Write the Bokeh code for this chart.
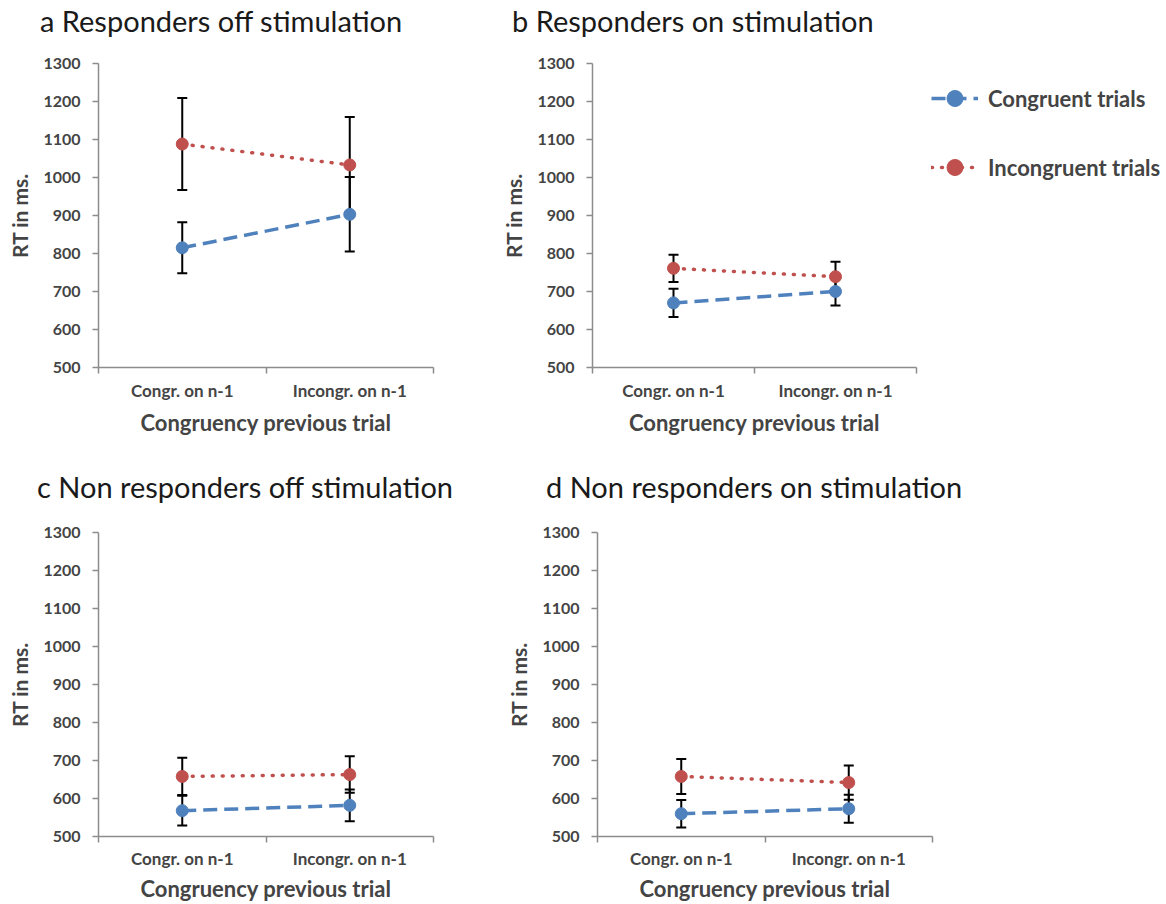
from bokeh.plotting import figure
from bokeh.models import (ColumnDataSource, Range1d, LinearAxis, FixedTicker, Whisker,
                          TeeHead, Legend, LegendItem, Div)
from bokeh.layouts import column, row
from bokeh.embed import file_html
from bokeh.resources import INLINE

# ---- data -------------------------------------------------------------
categories = ["Congr. on n-1", "Incongr. on n-1"]
y_ticks = [500, 600, 700, 800, 900, 1000, 1100, 1200, 1300]

panel_titles = [
    "a Responders off stimulation",
    "b Responders on stimulation",
    "c Non responders off stimulation",
    "d Non responders on stimulation",
]

# mean RT (ms) and error-bar half widths per panel
a_congruent = [815, 903]
a_congruent_err = [67, 98]
a_incongruent = [1088, 1033]
a_incongruent_err = [121, 126]

b_congruent = [670, 700]
b_congruent_err = [37, 37]
b_incongruent = [761, 739]
b_incongruent_err = [36, 39]

c_congruent = [568, 582]
c_congruent_err = [39, 42]
c_incongruent = [658, 663]
c_incongruent_err = [49, 48]

d_congruent = [560, 573]
d_congruent_err = [36, 37]
d_incongruent = [658, 642]
d_incongruent_err = [46, 45]

series_names = ["Congruent trials", "Incongruent trials"]

# ---- style ------------------------------------------------------------
FONT = "Lato"
BLUE = "#4F81BD"
RED = "#C0504D"
GRAY = "#8C8C8C"
FRAME_H = 304

# each category occupies one unit on the x scale; points sit at the centre
cat_pos = [i + 0.5 for i in range(len(categories))]
cat_edges = list(range(len(categories) + 1))


def heading(text, width, height, indent):
    """Panel heading drawn as a fixed-size text strip above a plot."""
    html = (
        f'<div style="font-family:{FONT};font-size:29px;line-height:{height}px;'
        f'padding-left:{indent}px;color:#1a1a1a;white-space:nowrap;margin:0;">'
        f'{text}</div>'
    )
    return Div(text=html, width=width, height=height, margin=0)


def make_panel(cong, cong_err, incong, incong_err,
               left, right, top, bottom,
               tick_standoff=6, xlabel_standoff=5,
               frame_width=335, with_legend=False):
    p = figure(
        x_range=Range1d(0, len(categories)),
        y_range=Range1d(500, 1300),
        frame_width=frame_width,
        frame_height=FRAME_H,
        min_border_left=left, min_border_right=right,
        min_border_top=top, min_border_bottom=bottom,
        x_axis_location=None, y_axis_location=None,
        output_backend="svg", toolbar_location=None,
    )
    p.title = None
    p.outline_line_color = None
    p.xgrid.visible = False
    p.ygrid.visible = False
    p.background_fill_color = "white"
    p.border_fill_color = "white"

    # value axis
    yax = LinearAxis(
        ticker=FixedTicker(ticks=y_ticks, minor_ticks=[]),
        axis_label="RT in ms.",
        axis_label_text_font=FONT, axis_label_text_font_size="21px",
        axis_label_text_font_style="bold", axis_label_standoff=8,
        major_label_text_font=FONT, major_label_text_font_size="16px",
        major_label_text_font_style="bold", major_label_standoff=12,
        major_tick_out=6, major_tick_in=0,
        axis_line_color=GRAY, major_tick_line_color=GRAY,
        axis_line_width=1.5, major_tick_line_width=1.5,
    )
    p.add_layout(yax, "left")

    # category axis: labels at the centres, tick marks at the boundaries
    xax = LinearAxis(
        ticker=FixedTicker(ticks=cat_pos, minor_ticks=cat_edges),
        major_label_overrides={pos: c for pos, c in zip(cat_pos, categories)},
        axis_label="Congruency previous trial",
        axis_label_text_font=FONT, axis_label_text_font_size="22px",
        axis_label_text_font_style="bold", axis_label_standoff=xlabel_standoff,
        major_label_text_font=FONT, major_label_text_font_size="17px",
        major_label_text_font_style="bold", major_label_standoff=tick_standoff,
        major_tick_line_color=None, major_tick_out=0, major_tick_in=0,
        minor_tick_line_color=GRAY, minor_tick_out=6, minor_tick_in=0,
        minor_tick_line_width=1.5,
        axis_line_color=GRAY, axis_line_width=1.5,
    )
    p.add_layout(xax, "below")

    renderers = []
    for vals, errs, color, dash, cap in (
        (cong, cong_err, BLUE, "14 7", "butt"),
        (incong, incong_err, RED, "1 9", "round"),
    ):
        src = ColumnDataSource(dict(
            x=cat_pos, y=vals,
            upper=[v + e for v, e in zip(vals, errs)],
            lower=[v - e for v, e in zip(vals, errs)],
        ))
        w = Whisker(
            base="x", upper="upper", lower="lower", source=src,
            line_color="black", line_width=2,
            upper_head=TeeHead(size=10, line_width=2, line_color="black"),
            lower_head=TeeHead(size=10, line_width=2, line_color="black"),
            level="underlay",
        )
        p.add_layout(w)
        ln = p.line("x", "y", source=src, line_color=color, line_width=3.5,
                    line_dash=dash, line_cap=cap)
        sc = p.scatter("x", "y", source=src, size=12, fill_color=color,
                       line_color=color)
        renderers.append([ln, sc])

    if with_legend:
        legend = Legend(
            items=[LegendItem(label=n, renderers=r)
                   for n, r in zip(series_names, renderers)],
            location="top_left",
            glyph_width=47, glyph_height=40, label_height=40,
            spacing=29, margin=15, padding=0, label_standoff=10,
            label_text_font=FONT, label_text_font_size="22px",
            label_text_font_style="bold",
            border_line_alpha=0, background_fill_alpha=0,
        )
        p.add_layout(legend, "right")
    return p


pa = make_panel(a_congruent, a_congruent_err, a_incongruent, a_incongruent_err,
                left=98, right=57, top=21, bottom=93)
pb = make_panel(b_congruent, b_congruent_err, b_incongruent, b_incongruent_err,
                left=102, right=250, top=21, bottom=93,
                frame_width=324, with_legend=True)
pc = make_panel(c_congruent, c_congruent_err, c_incongruent, c_incongruent_err,
                left=98, right=57, top=18, bottom=68,
                tick_standoff=5, xlabel_standoff=3)
pd = make_panel(d_congruent, d_congruent_err, d_incongruent, d_incongruent_err,
                left=107, right=234, top=18, bottom=68,
                tick_standoff=5, xlabel_standoff=3)

ha = heading(panel_titles[0], 490, 42, 40)
hb = heading(panel_titles[1], 676, 42, 22)
hc = heading(panel_titles[2], 490, 54, 37)
hd = heading(panel_titles[3], 676, 54, 56)

layout = column(
    row(ha, hb, spacing=0),
    row(pa, pb, spacing=0),
    row(hc, hd, spacing=0),
    row(pc, pd, spacing=0),
    spacing=0,
)

with open("out.html", "w") as f:
    f.write(file_html(layout, INLINE))
